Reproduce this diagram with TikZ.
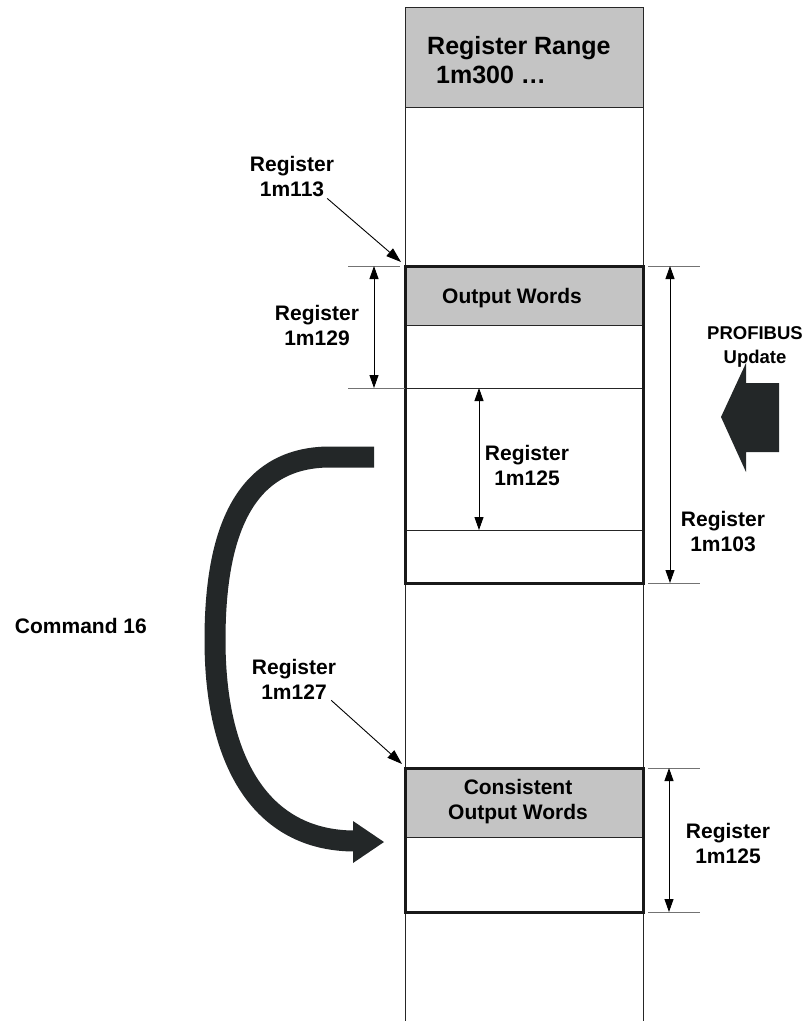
\documentclass[tikz,border=0pt]{standalone}
\usepackage{fontspec}
\setmainfont{Liberation Sans}
\usetikzlibrary{arrows.meta}
\definecolor{darkfill}{RGB}{35,39,40}
\definecolor{hdrgray}{RGB}{196,196,196}

\begin{document}
\begin{tikzpicture}[x=1pt,y=-1pt,
    lbl/.style={font=\bfseries\fontsize{21}{25}\selectfont, align=center, inner sep=0pt},
    thin/.style={line width=0.9pt, draw=black!85},
    ext/.style={line width=0.9pt, draw=black!55},
    frame/.style={line width=3pt, draw=black!90},
    hdr/.style={fill=hdrgray},
    dim/.style={line width=0.9pt, {Triangle[length=13pt,width=9pt]}-{Triangle[length=13pt,width=9pt]}},
    ptr/.style={line width=0.9pt, -{Triangle[length=15pt,width=10pt]}},
    band/.style={line width=21pt, draw=darkfill}]
    \useasboundingbox (0,0) rectangle (807,1021);

    % column
    \fill[hdr] (405,7) rectangle (643,107);
    \draw[thin] (405,7) -- (643,7);
    \draw[thin] (405,107) -- (643,107);
    \draw[thin] (405,7) -- (405,1021);
    \draw[thin] (643,7) -- (643,1021);

    % output words block
    \fill[hdr] (405,266) rectangle (643,325);
    \draw[thin] (405,325) -- (643,325);
    \draw[thin] (405,388) -- (643,388);
    \draw[thin] (405,530) -- (643,530);
    \draw[frame] (405,266) rectangle (643,583);

    % consistent block
    \fill[hdr] (405,768) rectangle (643,837);
    \draw[thin] (405,837) -- (643,837);
    \draw[frame] (405,768) rectangle (643,912);

    % extension lines
    \draw[ext] (348,266) -- (400,266);
    \draw[ext] (348,388) -- (405,388);
    \draw[ext] (648,266) -- (700,266);
    \draw[ext] (648,583) -- (700,583);
    \draw[ext] (648,768) -- (700,768);
    \draw[ext] (648,912) -- (700,912);

    % coordinates
    \coordinate (ow) at (401,262);
    \coordinate (cw) at (402,764);
    \coordinate (d129a) at (374,266);
    \coordinate (d129b) at (374,388);
    \coordinate (d125a) at (479,388);
    \coordinate (d125b) at (479,530);
    \coordinate (d103a) at (670,266);
    \coordinate (d103b) at (670,583);
    \coordinate (dc125a) at (669,768);
    \coordinate (dc125b) at (669,912);
    \coordinate (cmdfrom) at (374,457);
    \coordinate (cmdto) at (355,841);

    % labels
    \node[lbl, font=\bfseries\fontsize{25}{29}\selectfont, align=left, anchor=north west]
        (range) at (427,36) {Register Range\\\hspace{9pt}1m300 …};
    \node[lbl, anchor=base] (ownames) at (512,303) {Output Words};
    \node[lbl] (cownames) at (518,802) {Consistent\\Output Words};
    \node[lbl] (l113) at (292,177) {Register\\1m113};
    \node[lbl] (l129) at (317,325) {Register\\1m129};
    \node[lbl] (l125) at (527,465) {Register\\1m125};
    \node[lbl] (l103) at (723,532) {Register\\1m103};
    \node[lbl] (l127) at (294,679) {Register\\1m127};
    \node[lbl] (lc125) at (728,843) {Register\\1m125};
    \node[lbl, font=\bfseries\fontsize{18.5}{24}\selectfont] (upd) at (755,347) {PROFIBUS\\Update};
    \node[lbl, anchor=base east] (cmd) at (147,633) {Command 16};

    % dimensions
    \draw[dim] (d129a) -- (d129b);
    \draw[dim] (d125a) -- (d125b);
    \draw[dim] (d103a) -- (d103b);
    \draw[dim] (dc125a) -- (dc125b);

    % pointers
    \draw[ptr] ([xshift=-7pt,yshift=-1pt]l113.south east) -- (ow);
    \draw[ptr] ([xshift=-5pt,yshift=-1pt]l127.south east) -- (cw);

    % big arrows
    \fill[darkfill] (779,383) -- (746,383) -- (746,363) -- (721,417)
        -- (746,472) -- (746,452) -- (779,452) -- cycle;
    \draw[band] (cmdfrom) -- (330,457) .. controls (240,457) and (215,540) .. (215,640)
        .. controls (215,760) and (260,841) .. (cmdto);
    \fill[darkfill] (353,821) -- (384,842) -- (353,863) -- cycle;
\end{tikzpicture}
\end{document}
